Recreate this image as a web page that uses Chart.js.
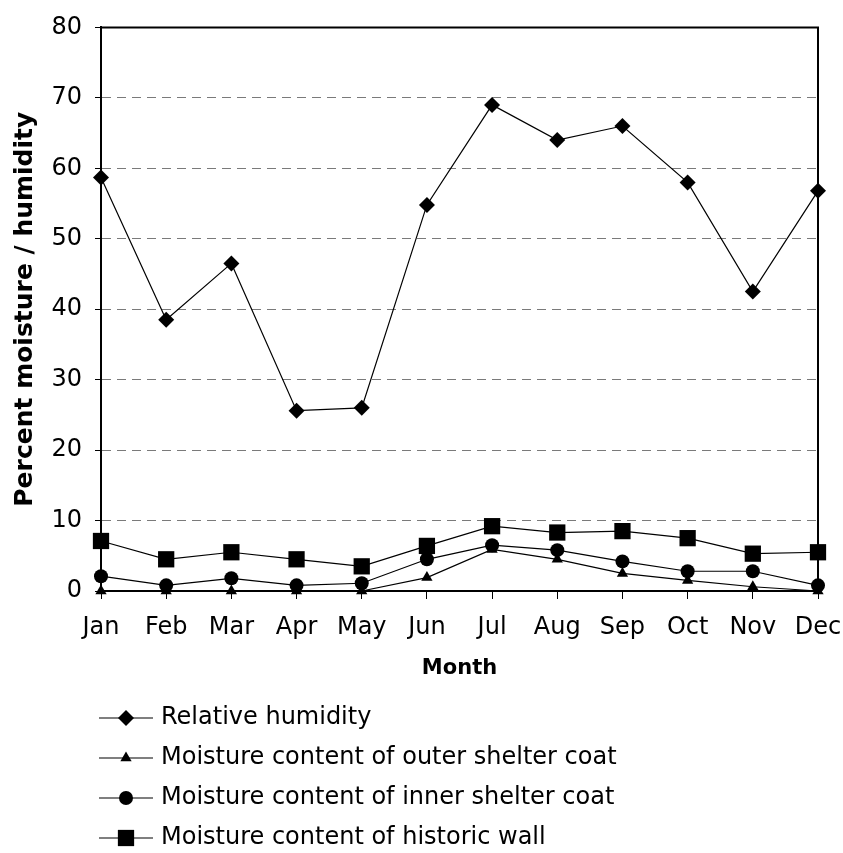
<!DOCTYPE html>
<html>
<head>
<meta charset="utf-8">
<script src="https://cdn.jsdelivr.net/npm/chart.js@4.4.1/dist/chart.umd.min.js"></script>
<style>
  body { margin: 0; background: #fff; }
  #wrap { width: 843px; height: 853px; }
</style>
</head>
<body>
<div id="wrap"><canvas id="chart-wrapper" width="843" height="853"></canvas></div>
<script>
// data
const months = ["Jan", "Feb", "Mar", "Apr", "May", "Jun", "Jul", "Aug", "Sep", "Oct", "Nov", "Dec"];
const relativeHumidity = [58.7, 38.5, 46.5, 25.6, 26.0, 54.8, 69.0, 64.0, 66.0, 58.0, 42.5, 56.8];
const outerCoat = [0, 0, 0, 0, 0, 1.9, 5.9, 4.5, 2.5, 1.5, 0.6, 0];
const innerCoat = [2.1, 0.8, 1.8, 0.8, 1.1, 4.5, 6.5, 5.8, 4.2, 2.8, 2.8, 0.8];
const historicWall = [7.1, 4.5, 5.5, 4.5, 3.5, 6.4, 9.2, 8.3, 8.5, 7.5, 5.3, 5.5];
const seriesNames = [
  "Relative humidity",
  "Moisture content of outer shelter coat",
  "Moisture content of inner shelter coat",
  "Moisture content of historic wall"
];
const yTicks = [0, 10, 20, 30, 40, 50, 60, 70, 80];

const FONT = "'DejaVu Sans', Verdana, sans-serif";

function makeSet(label, data, style, radius) {
  return {
    label: label,
    data: data,
    borderColor: "#000",
    backgroundColor: "#000",
    borderWidth: 1.2,
    pointStyle: style,
    pointRadius: radius,
    pointHoverRadius: radius,
    pointBorderWidth: 0,
    pointBackgroundColor: "#000",
    tension: 0,
    fill: false,
    clip: false,
  };
}

// solid top and right edge of the plot area
const frame = {
  id: "frame",
  afterDatasetsDraw: (chart) => {
    const { ctx, chartArea } = chart;
    ctx.save();
    ctx.strokeStyle = "#000";
    ctx.lineWidth = 2;
    ctx.beginPath();
    ctx.moveTo(chartArea.left, chartArea.top);
    ctx.lineTo(chartArea.right, chartArea.top);
    ctx.lineTo(chartArea.right, chartArea.bottom);
    ctx.stroke();
    ctx.restore();
  },
};

// vertical legend under the axis title
const listLegend = {
  id: "listLegend",
  afterDraw: (chart) => {
    const { ctx } = chart;
    const startY = 718;
    const step = 40;
    ctx.save();
    chart.data.datasets.forEach((ds, i) => {
      let y = startY + i * step;
      ctx.strokeStyle = "#555";
      ctx.lineWidth = 1.5;
      ctx.beginPath();
      ctx.moveTo(99, y);
      ctx.lineTo(153, y);
      ctx.stroke();
      ctx.fillStyle = "#000";
      Chart.helpers.drawPoint(ctx, {
        pointStyle: ds.pointStyle,
        radius: ds.pointRadius,
        rotation: 0,
        borderWidth: 0,
      }, 126, y);
      ctx.fillStyle = "#000";
      ctx.font = "24px " + FONT;
      ctx.textAlign = "left";
      ctx.textBaseline = "middle";
      ctx.fillText(ds.label, 161, y);
    });
    ctx.restore();
  },
};

const ctx = document.getElementById("chart-wrapper");
const myChart = new Chart(ctx, {
  type: "line",
  data: {
    labels: months,
    datasets: [
      makeSet(seriesNames[0], relativeHumidity, "rectRot", 8),
      makeSet(seriesNames[1], outerCoat, "triangle", 6.5),
      makeSet(seriesNames[2], innerCoat, "circle", 7),
      makeSet(seriesNames[3], historicWall, "rect", 11.5),
    ],
  },
  options: {
    responsive: false,
    animation: false,
    devicePixelRatio: 1,
    layout: {
      padding: { top: 25, right: 25, bottom: 172, left: 0 },
    },
    plugins: {
      legend: { display: false },
      tooltip: { enabled: false },
    },
    scales: {
      x: {
        offset: false,
        grid: {
          drawOnChartArea: false,
          drawTicks: true,
          tickLength: 8,
          tickColor: "#000",
          tickWidth: 1,
        },
        border: { display: true, color: "#000", width: 2 },
        ticks: {
          color: "#000",
          font: { family: FONT, size: 24 },
          padding: 14,
          maxRotation: 0,
          autoSkip: false,
        },
        title: {
          display: true,
          text: "Month",
          color: "#000",
          font: { family: FONT, size: 21, weight: "bold" },
          padding: { top: 0, bottom: 0 },
        },
        afterFit: (scale) => {
          scale.height = 90;
          scale.paddingLeft = 10;
          scale.paddingRight = 10;
        },
      },
      y: {
        min: 0,
        max: 80,
        afterBuildTicks: (scale) => {
          scale.ticks = yTicks.map((v) => ({ value: v }));
        },
        grid: {
          color: (c) => (c.tick && c.tick.value > 0 && c.tick.value < 80 ? "#7a7a7a" : "rgba(0,0,0,0)"),
          lineWidth: 1,
          drawTicks: true,
          tickLength: 6,
          tickColor: "#000",
          tickWidth: 1,
        },
        border: { display: true, color: "#000", width: 2, dash: [9, 6] },
        ticks: {
          color: "#000",
          font: { family: FONT, size: 24 },
          padding: 13,
        },
        title: {
          display: true,
          text: "Percent moisture / humidity",
          color: "#000",
          font: { family: FONT, size: 25, weight: "bold" },
          padding: { top: 10, bottom: 0 },
        },
        afterFit: (scale) => {
          scale.width = 101;
        },
      },
    },
  },
  plugins: [frame, listLegend],
});
</script>
</body>
</html>
